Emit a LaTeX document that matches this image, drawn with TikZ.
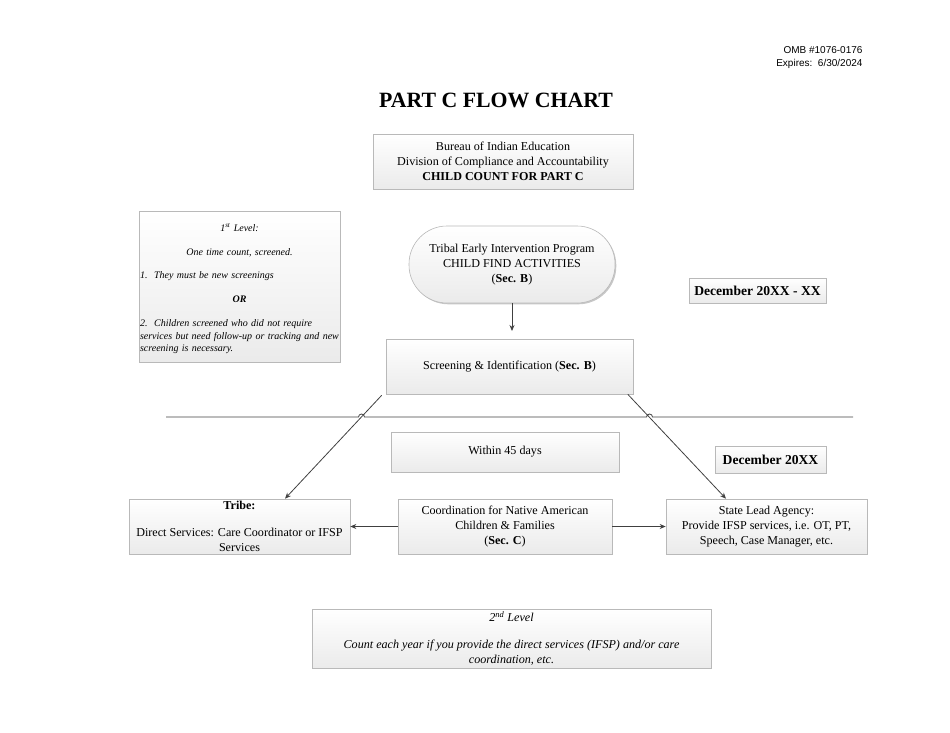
\documentclass[tikz,border=0pt]{standalone}
\usepackage{fontspec}
\setmainfont{Liberation Serif}
\newfontfamily\arialf{Liberation Sans}
\usetikzlibrary{shadows,arrows.meta,calc}
\definecolor{lnc}{HTML}{404040}
\tikzset{
  box/.style={draw=gray!55, line width=0.6pt, top color=white, bottom color=gray!16,
    drop shadow={shadow xshift=1.3pt, shadow yshift=-1.3pt, opacity=0.22, fill=black},
    align=center, inner sep=2pt, font=\fontsize{12.1}{15}\selectfont},
  conn/.style={draw=lnc, line width=0.8pt, -{Stealth[length=6pt,width=5pt]}},
}
\begin{document}
\begin{tikzpicture}[x=1pt,y=-1pt]
\useasboundingbox (0,0) rectangle (950,733);
% header texts
\node[anchor=east, align=right, font=\arialf\fontsize{10}{13}\selectfont] (omb) at (866,57.5) {OMB \#1076-0176\\Expires:\ \ 6/30/2024};
\node[font=\bfseries\fontsize{21.8}{24}\selectfont] (title) at (496,100) {PART C FLOW CHART};
% boxes
\node[box, minimum width=201, minimum height=151] (lvl1) at (239.5,286.5) {};
\node[text width=199, inner sep=0pt, align=left, anchor=center,
      font=\itshape\fontsize{10}{12.5}\selectfont] (lvl1txt) at ($(lvl1.center)+(0,2.5)$)
  {{\centering 1\textsuperscript{st} Level:\par}\vspace{11.5pt}
   {\centering One time count, screened.\par}\vspace{10.5pt}
   1.\ \ They must be new screenings\par\vspace{12pt}
   {\centering\bfseries OR\par}\vspace{11.5pt}
   2.\ \ Children screened who did not require\\\makebox[0pt][l]{services but need follow-up or tracking and new}\\screening is necessary.};
\node[box, minimum width=260, minimum height=55] (hdr) at (503,161.5)
  {Bureau of Indian Education\\Division of Compliance and Accountability\\\textbf{CHILD COUNT FOR PART C}};
\node[box, minimum width=206, minimum height=77, rounded corners=38] (tei) at (512,264.5)
  {Tribal Early Intervention Program\\CHILD FIND ACTIVITIES\\(\textbf{Sec. B})};
\node[box, minimum width=247, minimum height=55] (scr) at (509.5,366.5)
  {Screening \& Identification (\textbf{Sec. B})};
\node[box, minimum width=137, minimum height=25, font=\bfseries\fontsize{13.6}{16}\selectfont] (decxx) at (757.5,290.5)
  {December 20XX - XX};
\node[box, minimum width=228, minimum height=40] (w45) at (505,452) {Within 45 days};
\node[box, minimum width=111, minimum height=27, font=\bfseries\fontsize{13.6}{16}\selectfont] (dec) at (770.5,459.5)
  {December 20XX};
\node[box, minimum width=221, minimum height=55, inner ysep=1pt] (tribe) at (239.5,526.5)
  {\textbf{Tribe:}\\[12.5pt]Direct Services: Care Coordinator or IFSP\\Services};
\node[box, minimum width=214, minimum height=55] (coord) at (505,526.5)
  {Coordination for Native American\\Children \& Families\\(\textbf{Sec. C})};
\node[box, minimum width=201, minimum height=55] (sla) at (766.5,526.5)
  {State Lead Agency:\\Provide IFSP services, i.e. OT, PT,\\Speech, Case Manager, etc.};
\node[box, minimum width=399, minimum height=59, font=\itshape\fontsize{12.1}{14.5}\selectfont] (lvl2) at (511.5,638.5)
  {2\textsuperscript{nd} Level\\[12.5pt]Count each year if you provide the direct services (IFSP) and/or care\\coordination, etc.};
% divider with hops
\coordinate (hl) at (166,417);
\coordinate (hr) at (853,417);
\draw[lnc, line width=0.8pt] (hl) -- (358.5,417) arc (180:360:3) -- (646.5,417) arc (180:360:3) -- (hr);
% connectors
\draw[conn] (tei.south) -- (tei.south |- 0,331);
\coordinate (sl) at ($(scr.south west)+(-4,1)$);
\coordinate (sr) at ($(scr.south east)+(-5.5,0)$);
\draw[conn] (sl) -- ($(tribe.north)+(45.5,0)$);
\draw[conn] (sr) -- ($(sla.north)+(-40.5,0)$);
\draw[conn] (coord.west) -- (tribe.east);
\draw[conn] (coord.east) -- (sla.west);
\end{tikzpicture}
\end{document}
